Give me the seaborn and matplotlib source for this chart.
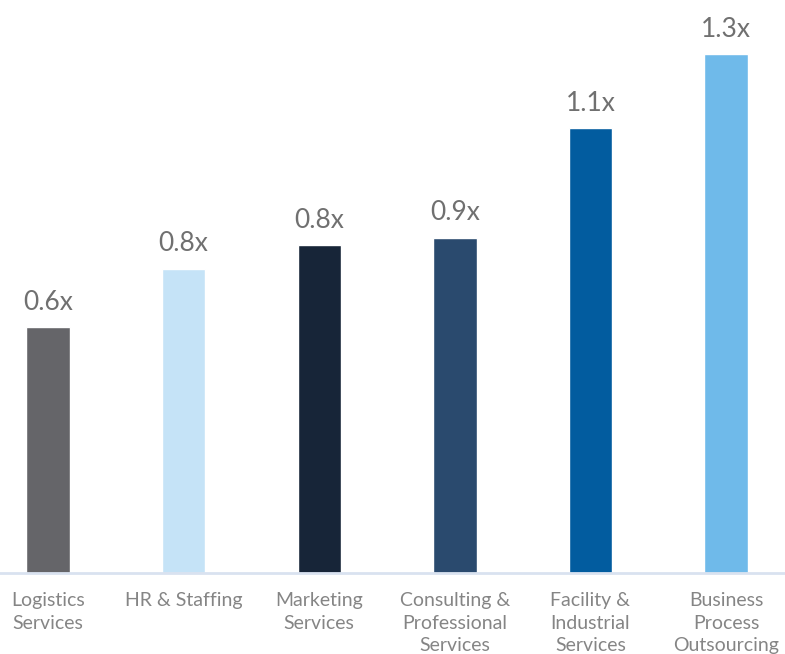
import matplotlib
matplotlib.use("Agg")
import matplotlib.pyplot as plt
import seaborn as sns
import pandas as pd

categories = ["Logistics\nServices", "HR & Staffing", "Marketing\nServices",
              "Consulting &\nProfessional\nServices", "Facility &\nIndustrial\nServices",
              "Business\nProcess\nOutsourcing"]
values = [0.63, 0.78, 0.84, 0.86, 1.14, 1.33]
value_labels = ["0.6x", "0.8x", "0.8x", "0.9x", "1.1x", "1.3x"]
colors = ["#656569", "#C5E3F7", "#172538", "#2A4A6E", "#025C9F", "#6FBAEA"]

sns.set_theme(style="white")
plt.rcParams["font.family"] = ["Lato", "DejaVu Sans"]

df = pd.DataFrame({"category": categories, "value": values})

fig = plt.figure(figsize=(7.85, 6.54), dpi=100)
ax = fig.add_axes([0, 0.1239, 1, 0.8761])

sns.barplot(data=df, x="category", y="value", hue="category", palette=colors,
            width=0.32, legend=False, ax=ax, saturation=1)

for i, (v, lab) in enumerate(zip(values, value_labels)):
    ax.annotate(lab, (i, v), xytext=(0, 9), textcoords="offset points",
                ha="center", va="bottom", fontsize=19, color="#707070")

ax.set_xlim(-0.354, 5.435)
ax.set_ylim(0, 1.469)
ax.set_yticks([])
ax.set_xlabel("")
ax.set_ylabel("")
for s in ["top", "right", "left"]:
    ax.spines[s].set_visible(False)
ax.spines["bottom"].set_color("#D9E2F0")
ax.spines["bottom"].set_linewidth(2)
ax.tick_params(axis="x", length=0, pad=14, labelsize=14, labelcolor="#858585")
for t in ax.get_xticklabels():
    t.set_linespacing(1.38)
    t.set_va("top")

fig.savefig("out.png", dpi=100)
